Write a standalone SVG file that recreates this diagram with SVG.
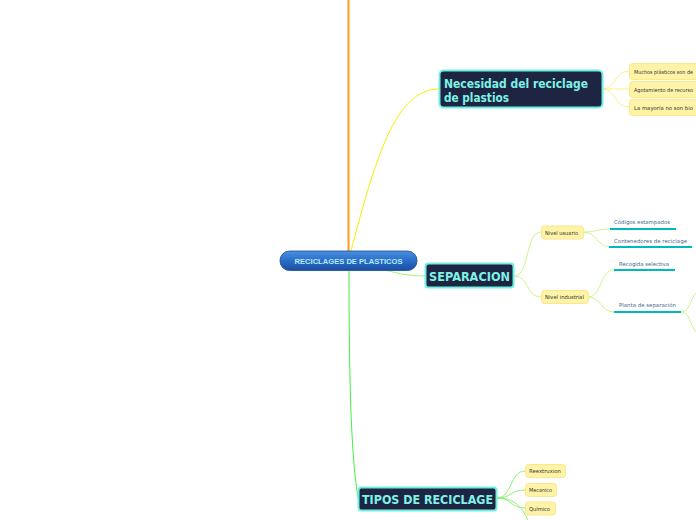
<svg xmlns="http://www.w3.org/2000/svg" width="696" height="520" viewBox="0 0 696 520">
<defs>
<linearGradient id="cg" x1="0" y1="0" x2="0" y2="1">
<stop offset="0" stop-color="#4a90e0"/>
<stop offset="0.5" stop-color="#2a6cc8"/>
<stop offset="1" stop-color="#1a4fa0"/>
</linearGradient>
<style>
.main rect{fill:#1e2542;stroke:#6ef0e0;stroke-width:2}
.main text{font-family:"DejaVu Sans",Verdana,sans-serif;font-weight:bold;font-size:11.8px;fill:#7ef2e6}
.sub rect{fill:#fff3a8;stroke:#fbe88a;stroke-width:1}
.sub text{font-family:"DejaVu Sans",Verdana,sans-serif;font-size:5.4px;fill:#333}
.leaf text{font-family:"DejaVu Sans",Verdana,sans-serif;font-size:5.4px;fill:#3f6a8c}
.leaf line{stroke:#00b8c4;stroke-width:2}
.c{fill:none;stroke-width:1}
</style>
</defs>
<rect width="696" height="520" fill="#ffffff"/>
<g id="connectors">
<line x1="348.5" y1="0" x2="348.5" y2="252" stroke="#ff9a1a" stroke-width="2"/>
<path class="c" d="M351 251 C375 160 395 89 439 89" stroke="#f5f000" stroke-width="1.5"/>
<path class="c" d="M385 270 C400 274 410 276 425 276" stroke="#a8f06a" stroke-width="1.5"/>
<path class="c" d="M349 270 C349 400 352 460 358 498" stroke="#3ef040" stroke-width="1.5"/>
<path class="c" d="M603 89 C615 89 615 71 629 71" stroke="#fbef8a"/>
<path class="c" d="M603 89 L629 89" stroke="#fbef8a"/>
<path class="c" d="M603 89 C615 89 615 107 629 107" stroke="#fbef8a"/>
<path class="c" d="M514 276 C530 276 525 232 541 232" stroke="#ccf58a"/>
<path class="c" d="M514 276 C530 276 525 297 541 297" stroke="#ccf58a"/>
<path class="c" d="M583 232 C597 232 597 229 610 229" stroke="#ccf58a"/>
<path class="c" d="M583 232 C597 232 597 247 610 247" stroke="#ccf58a"/>
<path class="c" d="M588 297 C602 297 600 270 614 270" stroke="#ccf58a"/>
<path class="c" d="M588 297 C602 297 600 312 614 312" stroke="#ccf58a"/>
<path class="c" d="M681 312 C690 312 690 298 697 292" stroke="#ccf58a"/>
<path class="c" d="M681 312 C690 312 690 326 697 333" stroke="#ccf58a"/>
<path class="c" d="M497 498 C512 498 510 471 525 471" stroke="#8ef07a"/>
<path class="c" d="M497 498 C512 498 510 490 525 490" stroke="#8ef07a"/>
<path class="c" d="M497 498 C512 498 510 508 525 508" stroke="#8ef07a"/>
<path class="c" d="M497 498 C512 498 522 505 528 521" stroke="#8ef07a"/>
</g>
<g id="center">
<rect x="280" y="251" width="137" height="19.5" rx="9.5" fill="url(#cg)" stroke="#1a4a98" stroke-width="0.8"/>
<text x="348.5" y="263.5" text-anchor="middle" font-family="'Liberation Sans',Arial,sans-serif" font-weight="bold" font-size="7.6" fill="#b4ecf8">RECICLAGES DE PLASTICOS</text>
</g>
<g id="necesidad" class="main">
<rect x="439.5" y="70.5" width="163" height="37" rx="4"/>
<text x="444" y="88" textLength="144" lengthAdjust="spacingAndGlyphs">Necesidad del reciclage</text>
<text x="444" y="101.5" textLength="65" lengthAdjust="spacingAndGlyphs">de plastios</text>
</g>
<g id="n1" class="sub"><rect x="629.5" y="63.5" width="90" height="16" rx="3"/><text x="634" y="73.5" textLength="59" lengthAdjust="spacingAndGlyphs">Muchos plásticos son de</text></g>
<g id="n2" class="sub"><rect x="629.5" y="81.5" width="90" height="16" rx="3"/><text x="634" y="91.5" textLength="59" lengthAdjust="spacingAndGlyphs">Agotamiento de recurso</text></g>
<g id="n3" class="sub"><rect x="629.5" y="99.5" width="90" height="16" rx="3"/><text x="634" y="109.5" textLength="59" lengthAdjust="spacingAndGlyphs">La mayoría no son bio</text></g>
<g id="separacion" class="main">
<rect x="425.5" y="263.5" width="88" height="24" rx="3"/>
<text x="429" y="280.5" textLength="81" lengthAdjust="spacingAndGlyphs">SEPARACION</text>
</g>
<g id="usuario" class="sub"><rect x="541.5" y="226" width="42" height="13" rx="3"/><text x="545" y="234.5" textLength="33" lengthAdjust="spacingAndGlyphs">Nivel usuario</text></g>
<g id="industrial" class="sub"><rect x="541.5" y="290.5" width="47" height="13" rx="3"/><text x="545" y="299" textLength="39" lengthAdjust="spacingAndGlyphs">Nivel industrial</text></g>
<g id="codigos" class="leaf"><text x="614" y="224" textLength="56" lengthAdjust="spacingAndGlyphs">Códigos estampados</text><line x1="610" y1="229" x2="676" y2="229"/></g>
<g id="contenedores" class="leaf"><text x="614" y="243" textLength="73" lengthAdjust="spacingAndGlyphs">Contenedores de reciclage</text><line x1="609" y1="247" x2="692" y2="247"/></g>
<g id="recogida" class="leaf"><text x="619" y="265.5" textLength="50" lengthAdjust="spacingAndGlyphs">Recogida selectiva</text><line x1="614" y1="270" x2="675" y2="270"/></g>
<g id="planta" class="leaf"><text x="619" y="306.5" textLength="57" lengthAdjust="spacingAndGlyphs">Planta de separación</text><line x1="614" y1="312" x2="681" y2="312"/></g>
<g id="tipos" class="main">
<rect x="358.5" y="487.5" width="138" height="23" rx="3"/>
<text x="362" y="503.5" textLength="131" lengthAdjust="spacingAndGlyphs">TIPOS DE RECICLAGE</text>
</g>
<g id="reextruxion" class="sub"><rect x="525.5" y="464.5" width="40" height="13" rx="3"/><text x="529" y="473" textLength="32" lengthAdjust="spacingAndGlyphs">Reextruxion</text></g>
<g id="mecanico" class="sub"><rect x="525.5" y="483.5" width="31" height="13" rx="3"/><text x="529" y="492" textLength="23" lengthAdjust="spacingAndGlyphs">Mecanico</text></g>
<g id="quimico" class="sub"><rect x="525.5" y="502" width="30" height="13" rx="3"/><text x="529" y="510.5" textLength="21" lengthAdjust="spacingAndGlyphs">Químico</text></g>
</svg>
